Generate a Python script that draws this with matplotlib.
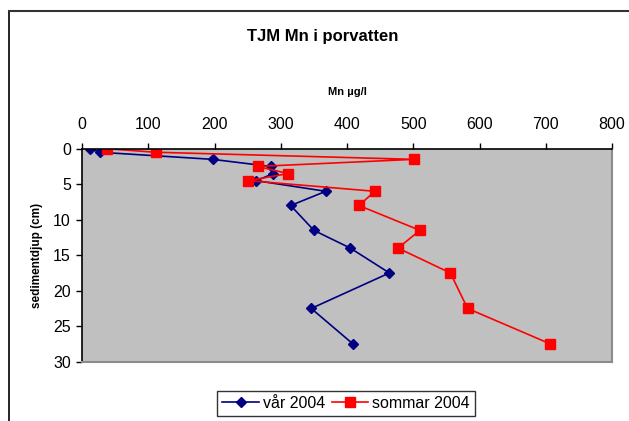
import matplotlib.pyplot as plt
from matplotlib.lines import Line2D

plt.rcParams['font.family'] = ['Liberation Sans', 'DejaVu Sans']

# Mn-halter i porvatten per sedimentdjup
djup = [0, 0.5, 1.5, 2.5, 3.5, 4.5, 6, 8, 11.5, 14, 17.5, 22.5, 27.5]
var_2004 = [12, 27, 197, 285, 289, 263, 368, 315, 350, 405, 464, 346, 409]
sommar_2004 = [37, 111, 501, 265, 311, 251, 442, 418, 510, 477, 556, 582, 707]
x_ticks = [0, 100, 200, 300, 400, 500, 600, 700, 800]
y_ticks = [0, 5, 10, 15, 20, 25, 30]

fig = plt.figure(figsize=(6.29, 4.21), dpi=100)
ax = fig.add_axes([82 / 629, 1 - 361.7 / 421, 530 / 629, 213 / 421])
ax.set_facecolor('#c0c0c0')

ax.plot(var_2004, djup, color='#000080', lw=1.2, marker='D', ms=5.5,
        label='vår 2004')
ax.plot(sommar_2004, djup, color='#ff0000', lw=1.2, marker='s', ms=7,
        label='sommar 2004')

ax.set_xlim(0, 800)
ax.set_ylim(30, 0)
ax.set_xticks(x_ticks)
ax.set_yticks(y_ticks)
ax.xaxis.tick_top()
ax.xaxis.set_label_position('top')
ax.tick_params(labelsize=11.5, length=4, width=1, pad=8, colors='black')
ax.tick_params(axis='y', pad=4)

for side in ['left', 'top']:
    ax.spines[side].set_color('black')
    ax.spines[side].set_linewidth(1.2)
for side in ['right', 'bottom']:
    ax.spines[side].set_color('#8c8c8c')
    ax.spines[side].set_linewidth(1.5)

ax.set_xlabel('Mn µg/l', fontsize=8, fontweight='bold', labelpad=16)
ax.set_ylabel('sedimentdjup (cm)', fontsize=8.5, fontweight='bold', labelpad=7)

fig.text(323 / 629, 1 - 37 / 421, 'TJM Mn i porvatten', fontsize=12,
         fontweight='bold', ha='center', va='center')

# Ram runt diagrammet
fig.add_artist(Line2D([9 / 629, 9 / 629], [0, 1 - 10.5 / 421], transform=fig.transFigure,
                      color='black', lw=1.2))
fig.add_artist(Line2D([9 / 629, 1], [1 - 10.5 / 421, 1 - 10.5 / 421], transform=fig.transFigure,
                      color='#333333', lw=1.5))

leg = fig.legend(loc='upper center', bbox_to_anchor=(346 / 629, 1 - 391 / 421), ncol=2,
                 fontsize=11.5, frameon=True, fancybox=False, edgecolor='black',
                 borderpad=0.3, columnspacing=0.4, handlelength=2.3, handletextpad=0.25,
                 borderaxespad=0)
leg.get_frame().set_linewidth(1.0)

fig.savefig('out.png', dpi=100)
